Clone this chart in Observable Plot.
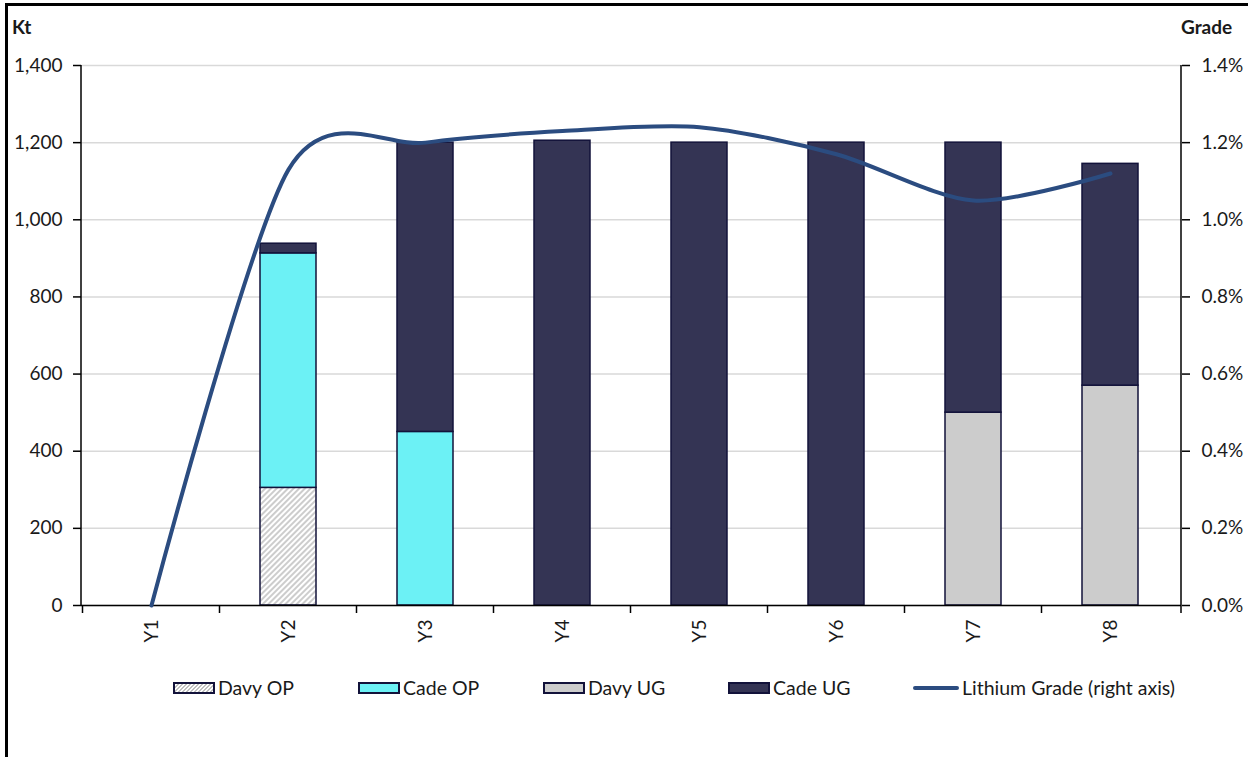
<!DOCTYPE html>
<html>
<head>
<meta charset="utf-8">
<script src="https://cdn.jsdelivr.net/npm/d3@7"></script>
<script src="https://cdn.jsdelivr.net/npm/@observablehq/plot@0.6"></script>
<style>
  html, body { margin: 0; padding: 0; background: #fff; }
  body { width: 1248px; height: 757px; position: relative; overflow: hidden; font-family: Lato, "Open Sans", sans-serif; color: #1a1a1a; }
  #chart { position: absolute; left: 0; top: 0; }
  .box { position: absolute; left: 5px; top: 3px; width: 1400px; height: 900px; border-left: 3px solid #000; border-top: 3px solid #000; pointer-events: none; z-index: 5; }
  .unit { position: absolute; top: 15px; font-weight: bold; font-size: 19px; z-index: 6; }
  #legend { position: absolute; left: 173px; top: 676px; display: flex; font-size: 19.5px; z-index: 6; }
  #legend .item { display: flex; align-items: center; width: 185px; }
  #legend .sw { width: 42px; height: 12px; border: 2px solid #12123a; box-sizing: border-box; margin-right: 3px; }
  #legend .ln { width: 46px; height: 4px; border-radius: 2px; margin-right: 3px; }
</style>
</head>
<body>
<div class="box"></div>
<div class="unit" style="left:12px">Kt</div>
<div class="unit" style="left:1181px">Grade</div>
<div id="chart"></div>
<div id="legend"></div>
<script>
// Annual tonnes (kt) by ore source, and the blended lithium grade (%)
const years  = ["Y1", "Y2", "Y3", "Y4", "Y5", "Y6", "Y7", "Y8"];
const davyOP = [0, 305, 0, 0, 0, 0, 0, 0];
const cadeOP = [0, 608, 450, 0, 0, 0, 0, 0];
const davyUG = [0, 0, 0, 0, 0, 0, 500, 570];
const cadeUG = [0, 25, 750, 1205, 1200, 1200, 700, 575];
const grade  = [0.0, 1.13, 1.20, 1.23, 1.24, 1.17, 1.05, 1.12];

const seriesNames = ["Davy OP", "Cade OP", "Davy UG", "Cade UG"];
const seriesValues = [davyOP, cadeOP, davyUG, cadeUG];
const seriesFills = ["url(#hatch)", "#6cf1f5", "#cccccc", "#343454"];
const kTicks = [0, 200, 400, 600, 800, 1000, 1200, 1400];
const lineName = "Lithium Grade (right axis)";
const lineColor = "#2b4c80";

// Grade is drawn on the tonnage scale: 1.0% <-> 1,000 kt
const gradeToKt = 1000;

const rows = [];
seriesNames.forEach((s, i) => years.forEach((y, j) => {
  if (seriesValues[i][j] > 0) rows.push({year: y, series: s, value: seriesValues[i][j]});
}));
const gradeRows = years.map((y, j) => ({year: y, grade: grade[j]}));

// Axis lines plus category-boundary ticks on the x axis
function frameLines(index, scales, values, dims) {
  const ns = "http://www.w3.org/2000/svg";
  const g = document.createElementNS(ns, "g");
  const x = scales.x;
  const bw = typeof x.bandwidth === "function" ? x.bandwidth() : x.bandwidth;
  const st = typeof x.step === "function" ? x.step() : x.step;
  const left = dims.marginLeft, right = dims.width - dims.marginRight;
  const top = dims.marginTop, bottom = dims.height - dims.marginBottom;
  const line = (x1, y1, x2, y2) => {
    const l = document.createElementNS(ns, "line");
    l.setAttribute("x1", x1); l.setAttribute("y1", y1);
    l.setAttribute("x2", x2); l.setAttribute("y2", y2);
    l.setAttribute("stroke", "#000"); l.setAttribute("stroke-width", 1.5);
    g.appendChild(l);
  };
  line(left, top, left, bottom);
  line(right, top, right, bottom);
  const edges = years.map(y => x(y) - (st - bw) / 2).concat([right]);
  edges.forEach(e => line(e, bottom, e, bottom + 8));
  return g;
}

const fontStyle = {fontFamily: "Lato, 'Open Sans', sans-serif", fontSize: "19px", color: "#1a1a1a", background: "transparent", overflow: "visible"};

const chart = Plot.plot({
  width: 1248,
  height: 660,
  marginLeft: 81,
  marginRight: 67,
  marginTop: 65,
  marginBottom: 55,
  style: fontStyle,
  x: {domain: years, paddingInner: 0.59, paddingOuter: 0.295, label: null},
  y: {domain: [0, 1400], label: null},
  color: {domain: seriesNames, range: seriesFills},
  marks: [
    Plot.gridY(kTicks, {stroke: "#d9d9d9", strokeOpacity: 1, strokeWidth: 1.5}),
    Plot.barY(rows, Plot.stackY({
      x: "year", y: "value", fill: "series", order: seriesNames,
      stroke: "#12123a", strokeWidth: 1.5
    })),
    Plot.ruleY([0], {stroke: "#000", strokeWidth: 1.5}),
    frameLines,
    Plot.axisY(kTicks, {anchor: "left", tickFormat: d3.format(","), tickSize: 8, tickPadding: 11, stroke: "#000", strokeWidth: 1.5, label: null}),
    Plot.axisY(kTicks, {anchor: "right", tickFormat: v => (v / gradeToKt).toFixed(1) + "%", tickSize: 8, tickPadding: 12, stroke: "#000", strokeWidth: 1.5, label: null}),
    Plot.axisX({tickSize: 0, tickRotate: -90, tickPadding: 14, label: null}),
    Plot.line(gradeRows, {x: "year", y: d => d.grade * gradeToKt, curve: "cardinal", tension: 0.15, stroke: lineColor, strokeWidth: 4})
  ]
});

// Diagonal hatch used by the Davy OP bars
const ns = "http://www.w3.org/2000/svg";
const defs = document.createElementNS(ns, "defs");
defs.innerHTML = `<pattern id="hatch" patternUnits="userSpaceOnUse" width="4" height="4" patternTransform="rotate(45)">
  <rect width="4" height="4" fill="#ffffff"/>
  <line x1="1" y1="0" x2="1" y2="4" stroke="#c0c0c0" stroke-width="1.6"/>
</pattern>`;
chart.insertBefore(defs, chart.firstChild);
document.getElementById("chart").appendChild(chart);

// Legend
const legend = d3.select("#legend");
seriesNames.forEach((s, i) => {
  const it = legend.append("div").attr("class", "item");
  const sw = it.append("div").attr("class", "sw");
  if (i === 0) {
    sw.style("background", "repeating-linear-gradient(-45deg, #ffffff 0 1.4px, #c0c0c0 1.4px 2.8px)");
  } else {
    sw.style("background", seriesFills[i]);
  }
  it.append("span").text(s);
});
const li = legend.append("div").attr("class", "item").style("width", "auto");
li.append("div").attr("class", "ln").style("background", lineColor);
li.append("span").text(lineName);
</script>
</body>
</html>
